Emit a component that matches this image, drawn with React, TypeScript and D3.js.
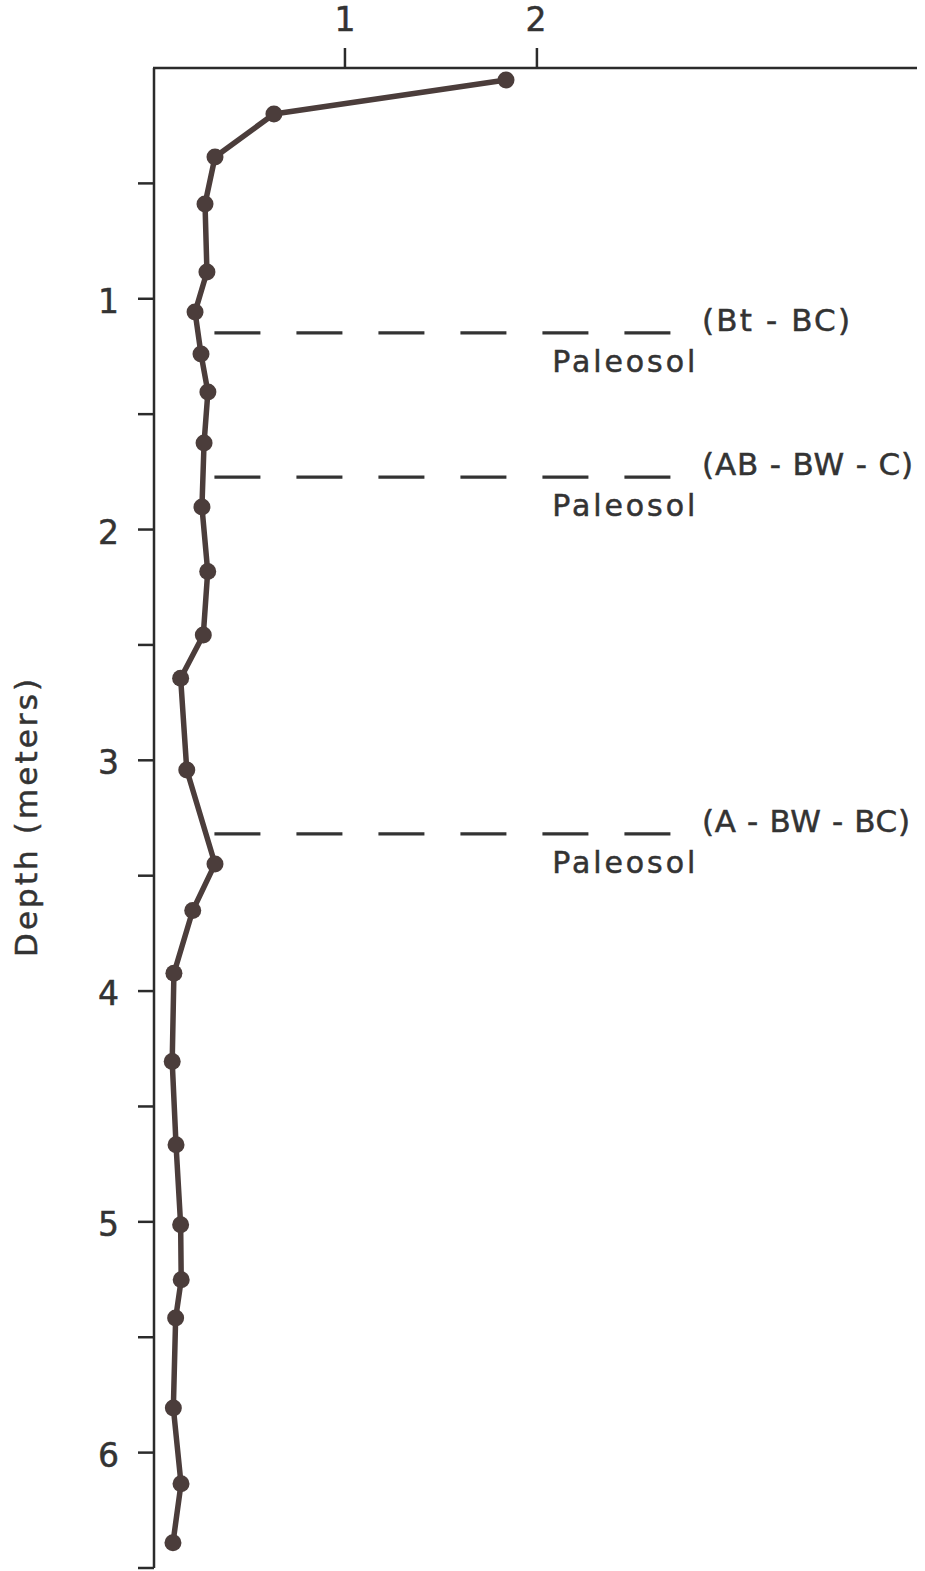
import React from "react";
import * as d3 from "d3";

// Measured values (x quantity) versus depth (meters)
const depths: number[] = [
  0.052, 0.199, 0.386, 0.589, 0.884, 1.057, 1.239, 1.404, 1.625, 1.902,
  2.182, 2.457, 2.644, 3.042, 3.449, 3.651, 3.923, 4.305, 4.666, 5.013,
  5.251, 5.417, 5.807, 6.135, 6.391,
];
const values: number[] = [
  1.839, 0.63, 0.323, 0.271, 0.281, 0.219, 0.25, 0.286, 0.266, 0.255,
  0.285, 0.262, 0.144, 0.176, 0.323, 0.207, 0.109, 0.1, 0.12, 0.144,
  0.147, 0.118, 0.106, 0.146, 0.104,
];

const xTickValues: number[] = [1, 2];
const xTickLabels: string[] = ["1", "2"];
const yTickValues: number[] = [0.5, 1, 1.5, 2, 2.5, 3, 3.5, 4, 4.5, 5, 5.5, 6, 6.5];
const yLabelValues: number[] = [1, 2, 3, 4, 5, 6];

const horizonDepths: number[] = [1.148, 1.773, 3.319];
const horizonNames: string[] = ["(Bt - BC)", "(AB - BW - C)", "(A - BW - BC)"];
const horizonCaption = "Paleosol";

const W = 925;
const H = 1571;
const INK = "#4b3d3b";
const AXIS = "#2b2b2b";
const TEXT = "#333";
const FONT = "'DejaVu Sans', sans-serif";

export default function App() {
  const x = d3.scaleLinear().domain([0, 3.98]).range([153, 917]);
  const y = d3.scaleLinear().domain([0, 6.5]).range([68, 1568]);

  const line = d3
    .line<number>()
    .x((_, i) => x(values[i]))
    .y((d) => y(d));

  const labelWidths = [148, 211, 208];
  const textStroke = { stroke: TEXT, strokeWidth: 0.5 };

  return (
    <svg
      width={W}
      height={H}
      style={{ position: "absolute", left: 0, top: 0, display: "block", background: "#fff" }}
    >
      {/* top axis */}
      <line x1={x(0)} x2={x(3.98)} y1={y(0)} y2={y(0)} stroke={AXIS} strokeWidth={2.5} />
      {xTickValues.map((t, i) => (
        <g key={"xt" + t}>
          <line x1={x(t)} x2={x(t)} y1={y(0)} y2={y(0) - 20} stroke={AXIS} strokeWidth={2.5} />
          <text
            x={x(t) + (i === 1 ? -1 : 0)}
            y={31}
            textAnchor="middle"
            fontFamily={FONT}
            fontSize={33}
            fill={TEXT}
            {...textStroke}
          >
            {xTickLabels[i]}
          </text>
        </g>
      ))}

      {/* left axis */}
      <line x1={x(0) + 1} x2={x(0) + 1} y1={y(0)} y2={y(6.5)} stroke={AXIS} strokeWidth={2.5} />
      {yTickValues.map((t) => (
        <line key={"yt" + t} x1={x(0) - 15} x2={x(0) + 1} y1={y(t)} y2={y(t)} stroke={AXIS} strokeWidth={2.5} />
      ))}
      {yLabelValues.map((t) => (
        <text
          key={"yl" + t}
          x={119}
          y={y(t) + 14}
          textAnchor="end"
          fontFamily={FONT}
          fontSize={33}
          fill={TEXT}
          {...textStroke}
        >
          {String(t)}
        </text>
      ))}
      <text
        transform={`translate(37, 818) rotate(-90)`}
        textAnchor="middle"
        fontFamily={FONT}
        fontSize={31}
        fill={TEXT}
        textLength={278}
        lengthAdjust="spacing"
        {...textStroke}
      >
        Depth (meters)
      </text>

      {/* paleosol horizons */}
      {horizonDepths.map((d, i) => (
        <g key={"h" + i}>
          <line
            x1={x(0.32)}
            x2={x(2.71)}
            y1={y(d)}
            y2={y(d)}
            stroke="#333"
            strokeWidth={3.2}
            strokeDasharray="46 36"
          />
          <text
            x={x(2.86)}
            y={y(d) - 2}
            fontFamily={FONT}
            fontSize={31}
            fill={TEXT}
            textLength={labelWidths[i]}
            lengthAdjust="spacing"
            {...textStroke}
          >
            {horizonNames[i]}
          </text>
          <text
            x={x(2.08)}
            y={y(d) + 39}
            fontFamily={FONT}
            fontSize={30}
            fill={TEXT}
            textLength={143}
            lengthAdjust="spacing"
            {...textStroke}
          >
            {horizonCaption}
          </text>
        </g>
      ))}

      {/* data line */}
      <path d={line(depths) || ""} fill="none" stroke={INK} strokeWidth={5.5} strokeLinejoin="round" />
      {depths.map((d, i) => (
        <circle key={"p" + i} cx={x(values[i])} cy={y(d)} r={8.5} fill={INK} />
      ))}
    </svg>
  );
}
